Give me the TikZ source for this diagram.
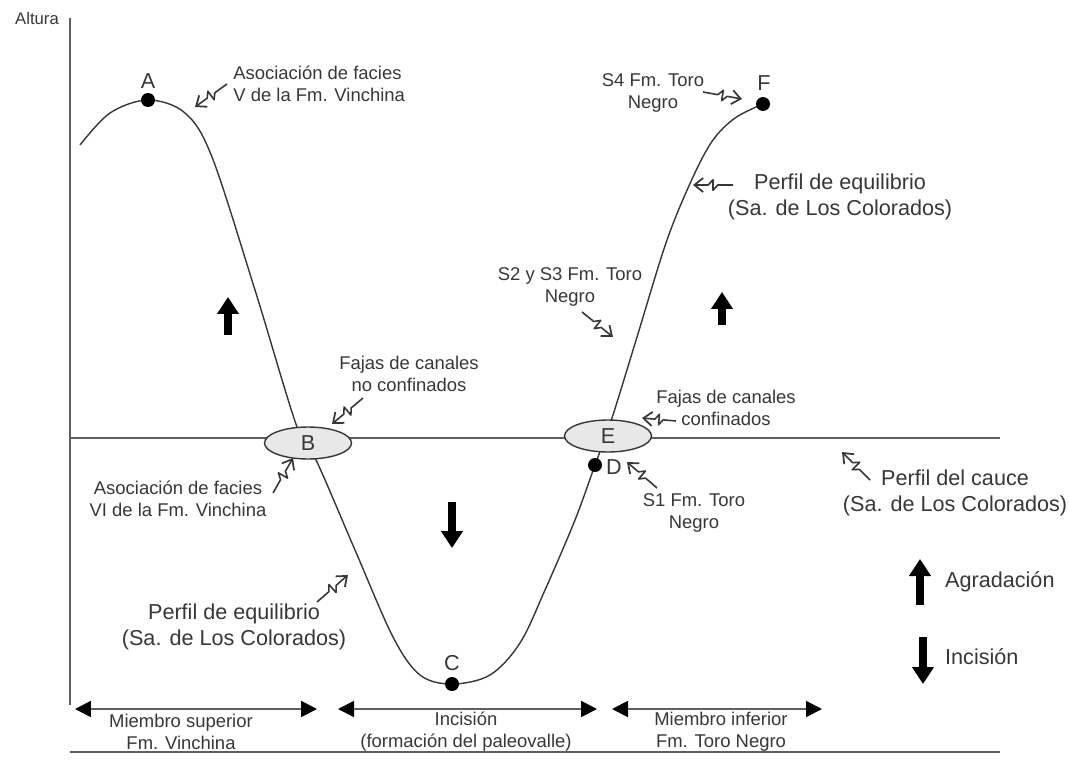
\documentclass[tikz,border=0pt]{standalone}
\usepackage{fontspec}
\setmainfont{Liberation Sans}
\usetikzlibrary{arrows.meta,calc,shapes.geometric}
\definecolor{ink}{RGB}{55,55,55}
\definecolor{axisgray}{RGB}{95,95,95}
\definecolor{lensfill}{RGB}{232,232,232}
\newcommand{\txtS}{\fontsize{10.5}{12.5}\selectfont}
\newcommand{\txtL}{\fontsize{12.3}{15}\selectfont}
% lightning-style pointer from tail #1 to head #2
\newcommand{\zap}[2]{%
  \draw[zaparrow] (#1) -- ($(#1)!0.38!(#2)$)
    -- ($(#1)!0.50!(#2)!3pt!90:(#2)$)
    -- ($(#1)!0.50!(#2)!3pt!-90:(#2)$)
    -- ($(#1)!0.62!(#2)$) -- (#2);}

\begin{document}
\begin{tikzpicture}[x=0.02cm,y=-0.02cm,font=\txtS,text=ink,
  dot/.style={circle,fill=black,inner sep=0pt,minimum size=0.28cm},
  lens/.style={ellipse,draw=ink,fill=lensfill,line width=0.8pt,minimum width=1.74cm,minimum height=0.64cm,inner sep=0pt,font=\txtL},
  zaparrow/.style={draw=ink,line width=0.9pt,line join=round,-{Straight Barb[length=5pt,width=8pt,line width=1pt]}},
  bigarrow/.style={draw=black,line width=0.17cm,-{Triangle[length=0.34cm,width=0.42cm]}},
  span/.style={draw=axisgray,line width=1.1pt,{Triangle[length=0.32cm,width=0.32cm,black]}-{Triangle[length=0.32cm,width=0.32cm,black]}}]
  \useasboundingbox (0,0) rectangle (1069,764);

  % axes and channel profile
  \coordinate (y0) at (70,705);
  \coordinate (y1) at (70,18);
  \coordinate (t1) at (1000,752);
  \coordinate (c0) at (70,438);
  \coordinate (c1) at (1000,438);
  \draw[axisgray,line width=1pt] (y0) -- (y1);
  \draw[axisgray,line width=1pt] (70,752) -- (t1);
  \node (altura) at (37,19) {\fontsize{9.5}{11}\selectfont Altura};
  \node[anchor=north west] (tiempo) at (925,759) {Tiempo};

  % equilibrium profile
  \draw[ink,line width=0.8pt] plot[smooth,tension=0.55] coordinates {
    (80,145) (110,113) (148,100) (185,113) (212,157) (255,290) (297,427)
    (317,462) (355,550) (393,637) (420,675) (452,684) (490,675) (520,643)
    (545,590) (575,520) (595,465) (612,418) (637,337) (667,240) (693,177)
    (713,140) (735,118) (763,104)};
  \draw[axisgray,line width=1.1pt] (c0) -- (c1);

  \node[lens] (B) at (308,443) {B};
  \node[lens] (E) at (608,436) {E};

  \node[dot] (A) at (148,100) {};
  \node[dot] (C) at (452,684) {};
  \node[dot] (D) at (595,465) {};
  \node[dot] (F) at (763,104) {};
  \node[font=\txtL] (Alab) at (148,81) {A};
  \node[font=\txtL] (Clab) at (452,663) {C};
  \node[font=\txtL] (Dlab) at (614,467) {D};
  \node[font=\txtL] (Flab) at (764,83) {F};

  % labels and their pointers
  \node[anchor=west,align=left,inner sep=0pt] (facV) at (233,84)
    {Asociación de facies\\V de la Fm. Vinchina};
  \coordinate (facVt) at (227,84);  \coordinate (facVh) at (195,107);
  \zap{facVt}{facVh}

  \node[align=center] (s4) at (653,93) {S4 Fm. Toro\\Negro};
  \coordinate (s4t) at (703,92);  \coordinate (s4h) at (742,99);
  \zap{s4t}{s4h}

  \node[align=center,font=\txtL] (eqR) at (840,197)
    {Perfil de equilibrio\\(Sa. de Los Colorados)};
  \coordinate (eqRt) at (733,185);  \coordinate (eqRh) at (693,185);
  \zap{eqRt}{eqRh}

  \node[align=center] (s23) at (570,287) {S2 y S3 Fm. Toro\\Negro};
  \coordinate (s23t) at (582,312);  \coordinate (s23h) at (613,337);
  \zap{s23t}{s23h}

  \node[align=center] (noconf) at (409,374) {Fajas de canales\\no confinados};
  \coordinate (noconft) at (363,398);  \coordinate (noconfh) at (332,424);
  \zap{noconft}{noconfh}

  \node[align=center] (conf) at (726,408) {Fajas de canales\\confinados};
  \coordinate (conft) at (676,421);  \coordinate (confh) at (642,418);
  \zap{conft}{confh}

  \node[align=center,font=\txtL] (cauce) at (955,493)
    {Perfil del cauce\\(Sa. de Los Colorados)};
  \coordinate (caucet) at (870,480);  \coordinate (cauceh) at (842,452);
  \zap{caucet}{cauceh}

  \node[align=center] (facVI) at (178,499) {Asociación de facies\\VI de la Fm. Vinchina};
  \coordinate (facVIt) at (273,493);  \coordinate (facVIh) at (293,458);
  \zap{facVIt}{facVIh}

  \node[align=center] (s1) at (694,513) {S1 Fm. Toro\\Negro};
  \coordinate (s1t) at (657,488);  \coordinate (s1h) at (627,462);
  \zap{s1t}{s1h}

  \node[align=center,font=\txtL] (eqL) at (234,627)
    {Perfil de equilibrio\\(Sa. de Los Colorados)};
  \coordinate (eqLt) at (317,602);  \coordinate (eqLh) at (348,575);
  \zap{eqLt}{eqLh}

  % aggradation / incision arrows
  \coordinate (up1a) at (228,335);  \coordinate (up1b) at (228,297);
  \coordinate (up2a) at (722,325);  \coordinate (up2b) at (722,292);
  \coordinate (dn1a) at (452,502);  \coordinate (dn1b) at (452,548);
  \draw[bigarrow] (up1a) -- (up1b);
  \draw[bigarrow] (up2a) -- (up2b);
  \draw[bigarrow] (dn1a) -- (dn1b);

  % legend
  \coordinate (lupa) at (920,605);  \coordinate (lupb) at (920,559);
  \coordinate (ldna) at (923,637);  \coordinate (ldnb) at (923,684);
  \draw[bigarrow] (lupa) -- (lupb);
  \draw[bigarrow] (ldna) -- (ldnb);
  \node[anchor=west,font=\txtL] (agr) at (939,582) {Agradación};
  \node[anchor=west,font=\txtL] (inc) at (939,657) {Incisión};

  % time spans
  \coordinate (m1l) at (75,709);   \coordinate (m1r) at (317,709);
  \coordinate (m2l) at (338,709);  \coordinate (m2r) at (597,709);
  \coordinate (m3l) at (612,709);  \coordinate (m3r) at (822,709);
  \draw[span] (m1l) -- (m1r);
  \draw[span] (m2l) -- (m2r);
  \draw[span] (m3l) -- (m3r);
  \node[align=center] (msup) at (181,732) {Miembro superior\\Fm. Vinchina};
  \node[align=center] (incis) at (466,732) {Incisión\\(formación del paleovalle)};
  \node[align=center] (minf) at (721,732) {Miembro inferior\\Fm. Toro Negro};
\end{tikzpicture}
\end{document}
